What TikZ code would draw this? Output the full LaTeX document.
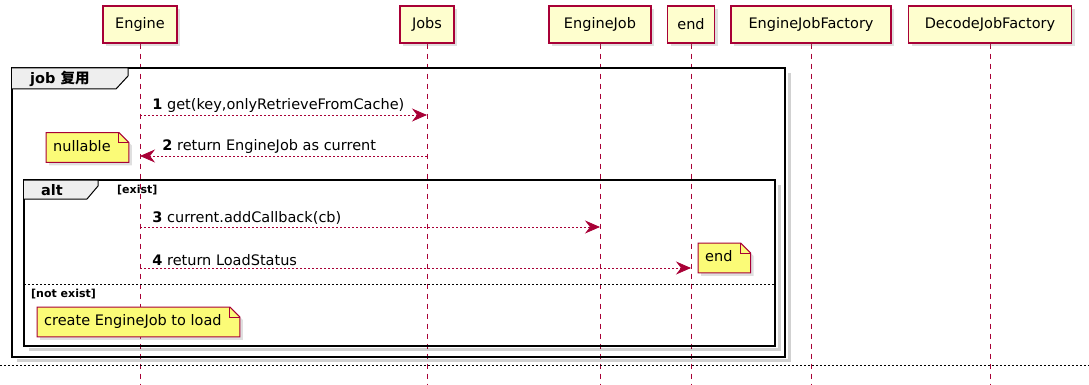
\documentclass[tikz,border=0pt]{standalone}
\usepackage{fontspec}
\setmainfont{DejaVu Sans}
\newfontfamily\cjkfont{Noto Sans CJK SC}
\usepackage{tikz}
\usetikzlibrary{arrows.meta,positioning,shadows}
\definecolor{sqred}{HTML}{A80036}
\definecolor{sqbeige}{HTML}{FEFECE}
\definecolor{sqyellow}{HTML}{FBFB77}
\definecolor{sqgray}{HTML}{EEEEEE}
\pgfdeclarelayer{lifelines}
\pgfdeclarelayer{notefill}
\pgfsetlayers{lifelines,notefill,main}
\tikzset{
  sqpart/.style={draw=sqred, fill=sqbeige, line width=1.2pt, minimum height=37pt,
    inner sep=0pt, font=\fontsize{14.5}{16}\selectfont,
    drop shadow={shadow xshift=3pt, shadow yshift=-3pt, opacity=0.25}},
  sqlife/.style={draw=sqred, line width=0.8pt, dash pattern=on 5pt off 5pt},
  sqmsg/.style={draw=sqred, line width=0.8pt, dash pattern=on 2pt off 2pt,
    -{Stealth[length=15pt, width=13pt, inset=5pt, fill=sqred, sep=0pt]}},
  sqlabel/.style={font=\fontsize{14.5}{16}\selectfont, inner sep=2pt, anchor=south west},
  sqnotetext/.style={font=\fontsize{14.5}{16}\selectfont, inner sep=0pt,
    text height=10.5pt, text depth=3pt, anchor=west},
  sqnoteline/.style={draw=sqred, fill=sqyellow, line width=1pt,
    drop shadow={shadow xshift=3pt, shadow yshift=-3pt, opacity=0.25}},
  sqframe/.style={draw=black, line width=2.2pt},
  sqtab/.style={draw=black, fill=sqgray, line width=1pt},
  sqshadow/.style={draw=black, opacity=0.18, line width=3pt},
  sqtabtext/.style={font=\bfseries\fontsize{14.5}{16}\selectfont, inner sep=0pt},
  sqguard/.style={font=\bfseries\fontsize{11}{13}\selectfont, inner sep=0pt, anchor=west},
  sqsep/.style={draw=black, line width=0.8pt, dash pattern=on 2pt off 2pt}
}
% note with folded corner around a text node
\newcommand{\sqnote}[3]{%
  \node[sqnotetext] (#1) at #2 {#3};
  \begin{pgfonlayer}{notefill}
    \filldraw[sqnoteline] ([xshift=-7pt,yshift=-8pt]#1.south west)
      -- ([xshift=-7pt,yshift=8pt]#1.north west)
      -- ([xshift=8pt,yshift=8pt]#1.north east)
      -- ([xshift=18pt,yshift=-2pt]#1.north east)
      -- ([xshift=18pt,yshift=-8pt]#1.south east) -- cycle;
    \draw[draw=sqred, line width=1pt] ([xshift=8pt,yshift=8pt]#1.north east)
      |- ([xshift=18pt,yshift=-2pt]#1.north east);
  \end{pgfonlayer}}

\begin{document}
\begin{tikzpicture}[x=1pt, y=-1pt]
  \useasboundingbox (0,0) rectangle (1089,385);

  % participants
  \node[sqpart, minimum width=74pt] (pEngine) at (140,24.5) {Engine};
  \node[sqpart, minimum width=54pt] (pJobs) at (427,24.5) {Jobs};
  \node[sqpart, minimum width=102pt] (pEngineJob) at (600,24.5) {EngineJob};
  \node[sqpart, minimum width=47pt] (pEnd) at (691,24.5) {end};
  \node[sqpart, minimum width=160pt] (pEJFactory) at (811,24.5) {EngineJobFactory};
  \node[sqpart, minimum width=163pt] (pDJFactory) at (990,24.5) {DecodeJobFactory};

  % lifelines
  \coordinate (bottom) at (0,385);
  \begin{pgfonlayer}{lifelines}
    \foreach \p in {pEngine,pJobs,pEngineJob,pEnd,pEJFactory,pDJFactory}
      \draw[sqlife] (\p.south) -- (\p.south |- bottom);
  \end{pgfonlayer}

  % frame: job 复用
  \draw[sqshadow] (789,73) -- (789,360) -- (17,360);
  \draw[sqframe] (12,68) rectangle (785,357);
  \draw[sqtab] (12,68) -- (128,68) -- (128,76) -- (116,89) -- (12,89);
  \node[sqtabtext, anchor=west] (tJob) at (30,79) {job {\cjkfont\bfseries 复用}};

  % frame: alt
  \draw[sqshadow] (779,185) -- (779,349) -- (29,349);
  \draw[sqframe] (24,180) rectangle (775,346);
  \draw[sqtab] (24,180) -- (98,180) -- (98,186) -- (87,199) -- (24,199);
  \node[sqtabtext] (tAlt) at (52,190) {alt};
  \node[sqguard] (gExist) at (117,190) {[exist]};
  \draw[sqsep] (24,284) -- (775,284);
  \node[sqguard] (gNotExist) at (31,294) {[not exist]};

  % messages
  \coordinate (r1) at (0,115);
  \coordinate (r2) at (0,156);
  \coordinate (r3) at (0,227);
  \coordinate (r4) at (0,268);
  \draw[sqmsg] (pEngine |- r1) -- (pJobs |- r1)
    node[sqlabel, pos=0, xshift=10pt] {\textbf{1} get(key,onlyRetrieveFromCache)};
  \draw[sqmsg] (pJobs |- r2) -- (pEngine |- r2)
    node[sqlabel, pos=1, xshift=20pt] {\textbf{2} return EngineJob as current};
  \draw[sqmsg] (pEngine |- r3) -- (pEngineJob |- r3)
    node[sqlabel, pos=0, xshift=10pt] {\textbf{3} current.addCallback(cb)};
  \draw[sqmsg] (pEngine |- r4) -- (pEnd |- r4)
    node[sqlabel, pos=0, xshift=10pt] {\textbf{4} return LoadStatus};

  % notes
  \sqnote{nNullable}{(53,147.5)}{nullable}
  \sqnote{nEnd}{(705,258)}{end}
  \sqnote{nCreate}{(44,322)}{create EngineJob to load}

  % delay line
  \draw[sqsep] (0,365) -- (1089,365);
\end{tikzpicture}
\end{document}
